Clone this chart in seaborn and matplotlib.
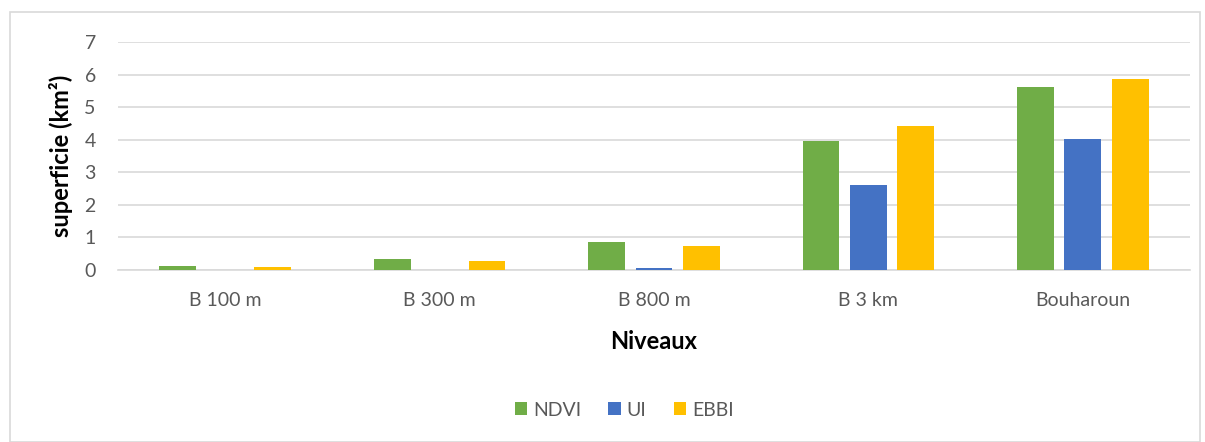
import pandas as pd
import seaborn as sns
import matplotlib.pyplot as plt
from matplotlib.patches import Rectangle

niveaux = ["B 100 m", "B 300 m", "B 800 m", "B 3 km", "Bouharoun"]
ndvi = [0.12, 0.33, 0.85, 3.95, 5.62]
ui = [0.0, 0.0, 0.07, 2.62, 4.02]
ebbi = [0.08, 0.27, 0.73, 4.42, 5.86]
indices = ["NDVI", "UI", "EBBI"]
colors = ["#70AD47", "#4472C4", "#FFC000"]

rows = []
for name, vals in zip(indices, [ndvi, ui, ebbi]):
    for niv, v in zip(niveaux, vals):
        rows.append((niv, name, v))
df = pd.DataFrame(rows, columns=["Niveaux", "indice", "superficie"])

sns.set_style("white")
plt.rcParams["font.family"] = ["Lato", "DejaVu Sans"]

fig = plt.figure(figsize=(12.05, 4.42), dpi=100)
ax = fig.add_axes([118 / 1205, 1 - 270 / 442, (1190 - 118) / 1205, (270 - 42) / 442])

sns.barplot(
    df,
    x="Niveaux",
    y="superficie",
    hue="indice",
    palette=colors,
    saturation=1,
    errorbar=None,
    width=0.663,
    gap=0.22,
    ax=ax,
    zorder=3,
    linewidth=0,
)

ax.set_ylim(0, 7)
ax.set_xlim(-0.5, 4.5)
ax.set_yticks(range(0, 8))
ax.yaxis.grid(True, color="#d9d9d9", linewidth=1.2, zorder=0)
ax.set_axisbelow(True)
for side in ["top", "right", "left"]:
    ax.spines[side].set_visible(False)
ax.spines["bottom"].set_color("#d9d9d9")
ax.spines["bottom"].set_linewidth(1.2)
ax.tick_params(axis="both", length=0, labelsize=14, labelcolor="#595959")
ax.tick_params(axis="y", pad=16)
ax.tick_params(axis="x", pad=16)

ax.set_ylabel("superficie (km²)", fontsize=17, fontweight="bold", color="black", labelpad=8)
ax.set_xlabel("Niveaux", fontsize=17, fontweight="bold", color="black", labelpad=15)

ax.legend(
    loc="center",
    bbox_to_anchor=(0.518, 1 - 410 / 442),
    bbox_transform=fig.transFigure,
    ncol=3,
    frameon=False,
    fontsize=14,
    handlelength=0.65,
    handleheight=0.65,
    handletextpad=0.3,
    columnspacing=1.4,
    labelcolor="#595959",
)

fig.patches.append(
    Rectangle((10 / 1205, 0), 1190 / 1205, 1 - 12 / 442, transform=fig.transFigure,
              fill=False, edgecolor="#d9d9d9", linewidth=1.2)
)

fig.savefig("out.png", dpi=100)
